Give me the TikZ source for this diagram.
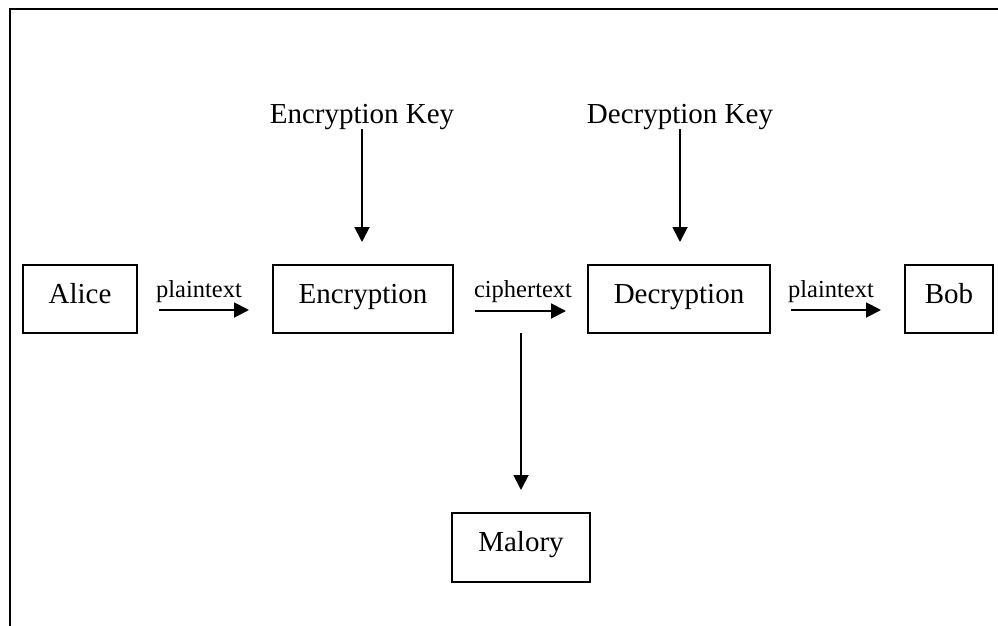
\documentclass[tikz,border=0pt]{standalone}
\usepackage{fontspec}
\setmainfont{Liberation Serif}
\usetikzlibrary{arrows.meta}

\begin{document}
\begin{tikzpicture}[x=1pt, y=-1pt,
  every node/.style={inner sep=0pt, outer sep=0pt},
  stagebox/.style={draw, line width=2pt, minimum height=68pt,
    text height=18pt, text depth=10pt,
    font=\fontsize{29}{34}\selectfont},
  keylabel/.style={font=\fontsize{29}{34}\selectfont, anchor=base},
  flowlabel/.style={font=\fontsize{24.5}{29}\selectfont, anchor=base},
  flow/.style={line width=1.9pt, -{Triangle[length=15pt, width=15pt]}},
  frameline/.style={line width=2.6pt}
]
\useasboundingbox (0,0) rectangle (998,626);

% open frame: left and top edges
\coordinate (fbl) at (10,626);
\coordinate (ftl) at (10,9);
\coordinate (ftr) at (998,9);
\draw[frameline] (fbl) -- (ftl) -- (ftr);

% main chain of stages
\node[stagebox, minimum width=114pt] (alice) at (80,299) {Alice};
\node[stagebox, minimum width=180pt] (enc)   at (363,299) {Encryption};
\node[stagebox, minimum width=182pt] (dec)   at (679,299) {Decryption};
\node[stagebox, minimum width=88pt]  (bob)   at (949,299) {Bob};
\node[stagebox, minimum width=138pt, minimum height=69pt] (mal) at (521,547.5) {Malory};

% keys
\node[keylabel] (ekey) at (362,123) {Encryption Key};
\node[keylabel] (dkey) at (680,123) {Decryption Key};

% labels on the horizontal arrows
\node[flowlabel] (lp1) at (199,297) {plaintext};
\node[flowlabel] (lc)  at (523,297) {ciphertext};
\node[flowlabel] (lp2) at (831,297) {plaintext};

% horizontal flow
\draw[flow, shorten <=22pt, shorten >=24pt]
  ([yshift=-11pt]alice.east) -- ([yshift=-11pt]enc.west);
\draw[flow, shorten <=22pt, shorten >=22pt]
  ([yshift=-12pt]enc.east) -- ([yshift=-12pt]dec.west);
\draw[flow, shorten <=21pt, shorten >=24pt]
  ([yshift=-11pt]dec.east) -- ([yshift=-11pt]bob.west);

% keys into the stages
\draw[flow, shorten >=23pt] (ekey.south) -- (ekey.south |- enc.north);
\draw[flow, shorten >=23pt] (dkey.south) -- (dkey.south |- dec.north);

% eavesdropper tap
\draw[flow, shorten >=23pt] (mal.north |- enc.south) -- (mal.north);
\end{tikzpicture}
\end{document}
